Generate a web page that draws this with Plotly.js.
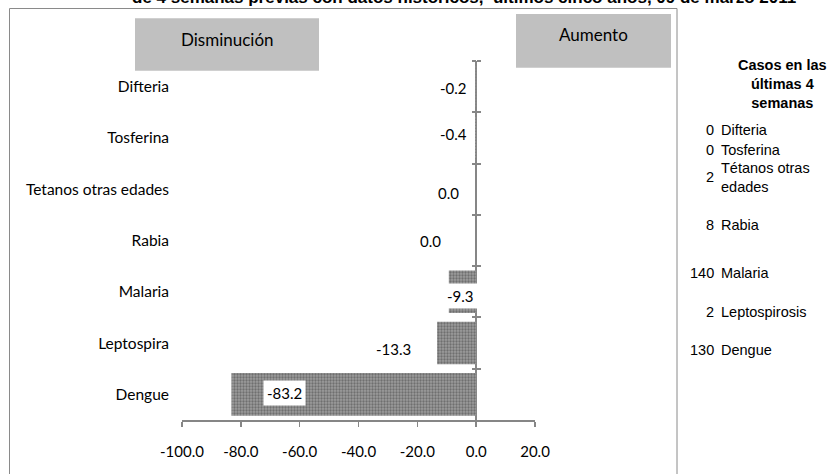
<!DOCTYPE html>
<html>
<head>
<meta charset="utf-8">
<script src="https://cdn.plot.ly/plotly-3.0.1.min.js"></script>
<style>html,body{margin:0;padding:0;background:#fff;}#chart{width:830px;height:474px;}</style>
</head>
<body>
<div id="chart"></div>
<script>
// ---- data ----
const categories = ['Difteria', 'Tosferina', 'Tetanos otras edades', 'Rabia', 'Malaria', 'Leptospira', 'Dengue'];
const changeValues = [-0.2, -0.4, 0.0, 0.0, -9.3, -13.3, -83.2];
const caseCounts = [0, 0, 2, 8, 140, 2, 130];
const caseNames = ['Difteria', 'Tosferina', 'Tétanos otras<br>edades', 'Rabia', 'Malaria', 'Leptospirosis', 'Dengue'];
const xTickValues = [-100, -80, -60, -40, -20, 0, 20];
const xTickLabels = ['-100.0', '-80.0', '-60.0', '-40.0', '-20.0', '0.0', '20.0'];
const titleText = 'de 4 semanas previas con datos históricos,  últimos cinco años, 09 de marzo 2011';
const tableHeader = 'Casos en las<br>últimas 4<br>semanas';
const leftBoxText = 'Disminución';
const rightBoxText = 'Aumento';

// ---- layout helpers (positions / styles) ----
const M = {l: 182, r: 295, t: 61, b: 54};
const W = 830, H = 474;
const PW = W - M.l - M.r, PH = H - M.t - M.b;
const px2x = p => (p - M.l) / PW;
const py2y = p => (H - M.b - p) / PH;
const labelDx = [-22, -21.6, -27.5, -46, 12, -43.5, 53.4];
const labelDy = [-1.4, 3.5, -3.9, 0, -3.8, -5.9, 1.7];
const tableRowY = [130, 150, 177, 225, 273, 312, 350];
const axisGray = '#868686';
const xMin = xTickValues[0], xMax = xTickValues[xTickValues.length - 1];
const zeroPos = (0 - xMin) / (xMax - xMin);
const catRange = [categories.length - 0.5, -0.5];

const bars = {
  type: 'bar', orientation: 'h', x: changeValues, y: categories,
  marker: {color: '#8e8e8e', line: {width: 0},
    pattern: {shape: '.', fgcolor: '#6f6f6f', bgcolor: '#9c9c9c', size: 3, solidity: 0.45}},
  hoverinfo: 'none', showlegend: false
};
const tickHelper = (ax) => ({
  type: 'scatter', mode: 'markers', x: changeValues, y: categories, yaxis: ax,
  marker: {opacity: 0}, hoverinfo: 'skip', showlegend: false
});

const tickAxis = (side) => ({
  type: 'category', categoryorder: 'array', categoryarray: categories, range: catRange,
  overlaying: 'y', anchor: 'free', position: zeroPos, side: side,
  ticks: 'outside', tickson: 'boundaries', ticklen: 4, tickwidth: 2, tickcolor: axisGray,
  showticklabels: false, showgrid: false, zeroline: false, showline: false
});

const annotations = [];
// title (mostly cut off at the top, as in the source)
annotations.push({xref: 'paper', yref: 'paper', x: px2x(464), y: py2y(9), xanchor: 'center', yanchor: 'bottom',
  text: titleText, showarrow: false, font: {family: 'Liberation Sans, Arial', size: 17, weight: 'bold', color: '#000'}});
// box labels
annotations.push({xref: 'paper', yref: 'paper', x: px2x(227), y: py2y(39), xanchor: 'center', yanchor: 'middle',
  text: leftBoxText, showarrow: false, font: {family: 'Lato', size: 17, color: '#000'}});
annotations.push({xref: 'paper', yref: 'paper', x: px2x(593), y: py2y(35), xanchor: 'center', yanchor: 'middle',
  text: rightBoxText, showarrow: false, font: {family: 'Lato', size: 17, color: '#000'}});
// value labels
changeValues.forEach((v, i) => {
  annotations.push({xref: 'x', yref: 'y', x: v, y: categories[i], xshift: labelDx[i], yshift: labelDy[i],
    text: v.toFixed(1), showarrow: false, bgcolor: '#ffffff', borderpad: 3,
    font: {family: 'Lato', size: 15, color: '#000'}});
});
// table header
annotations.push({xref: 'paper', yref: 'paper', x: px2x(782), y: py2y(84), xanchor: 'center', yanchor: 'middle',
  align: 'center', text: tableHeader, showarrow: false,
  font: {family: 'Liberation Sans, Arial', size: 14.5, weight: 'bold', color: '#000'}});
// table rows
caseCounts.forEach((c, i) => {
  annotations.push({xref: 'paper', yref: 'paper', x: px2x(716), y: py2y(tableRowY[i]), xanchor: 'right', yanchor: 'middle',
    text: String(c), showarrow: false, font: {family: 'Liberation Sans, Arial', size: 14.5, color: '#000'}});
  annotations.push({xref: 'paper', yref: 'paper', x: px2x(719), y: py2y(tableRowY[i]), xanchor: 'left', yanchor: 'middle',
    align: 'left', text: caseNames[i], showarrow: false, font: {family: 'Liberation Sans, Arial', size: 14.5, color: '#000'}});
});

const shapes = [
  {type: 'rect', xref: 'paper', yref: 'paper', x0: px2x(135), x1: px2x(319), y0: py2y(70.7), y1: py2y(18.3),
    fillcolor: '#c0c0c0', line: {width: 0}},
  {type: 'rect', xref: 'paper', yref: 'paper', x0: px2x(516), x1: px2x(671), y0: py2y(67.7), y1: py2y(14),
    fillcolor: '#c0c0c0', line: {width: 0}},
  {type: 'rect', xref: 'paper', yref: 'paper', x0: px2x(9.5), x1: px2x(677), y0: py2y(495), y1: py2y(8.5),
    fillcolor: 'rgba(0,0,0,0)', line: {color: '#8a8a8a', width: 1}}
];

const layout = {
  width: W, height: H, margin: M,
  paper_bgcolor: '#ffffff', plot_bgcolor: '#ffffff',
  bargap: 0.17, showlegend: false,
  font: {family: 'Lato', size: 15, color: '#000'},
  xaxis: {range: [xMin, xMax], tickvals: xTickValues, ticktext: xTickLabels,
    showgrid: false, zeroline: true, zerolinecolor: axisGray, zerolinewidth: 2.5,
    showline: true, linecolor: axisGray, linewidth: 1.5,
    ticks: 'outside', ticklen: 5, tickwidth: 1.5, tickcolor: axisGray, ticklabelstandoff: 12,
    tickfont: {family: 'Lato', size: 15, color: '#000'}, layer: 'above traces', fixedrange: true},
  yaxis: {type: 'category', categoryorder: 'array', categoryarray: categories, range: catRange,
    showgrid: false, zeroline: false, showline: false, ticks: '', ticklabelstandoff: 12,
    tickfont: {family: 'Lato', size: 15.5, color: '#000'}, fixedrange: true},
  yaxis2: tickAxis('left'),
  yaxis3: tickAxis('right'),
  annotations: annotations,
  shapes: shapes
};

Plotly.newPlot('chart', [bars, tickHelper('y2'), tickHelper('y3')], layout, {displayModeBar: false, staticPlot: true});
</script>
</body>
</html>
